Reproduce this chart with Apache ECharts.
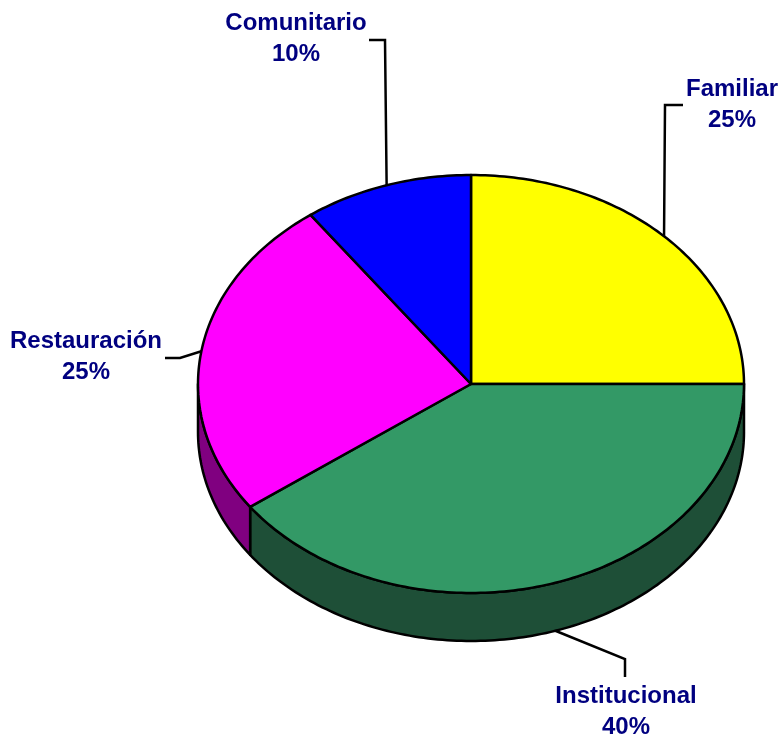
<!DOCTYPE html>
<html>
<head>
<meta charset="utf-8">
<script src="https://cdn.jsdelivr.net/npm/echarts@6/dist/echarts.min.js"></script>
<style>
  html, body { margin: 0; padding: 0; background: #fff; }
  #chart { width: 780px; height: 738px; }
</style>
</head>
<body>
<div id="chart"></div>
<script>
// data
const categories = ['Familiar', 'Institucional', 'Restauración', 'Comunitario'];
const values = [25, 40, 25, 10];

// styles
const topColors = ['#ffff00', '#339966', '#ff00ff', '#0000ff'];
const sideColors = ['#808000', '#1e4f37', '#800080', '#000080'];

// ellipse geometry (pixels)
const cx = 471, cy = 384, rx = 273, ry = 209, depth = 48;

// label placement: text centre, elbow and end of leader line
const labelLayout = [
  { text: [732, 105], elbow: [665, 105], end: [683, 105] },
  { text: [626, 712], elbow: [625, 659], end: [625, 677] },
  { text: [86, 357], elbow: [180, 358], end: [165, 358] },
  { text: [296, 39], elbow: [385, 40], end: [369, 40] }
];

const total = values.reduce((a, b) => a + b, 0);
const rad = d => d * Math.PI / 180;
const pt = (t, dy) => [cx + rx * Math.cos(rad(t)), cy - ry * Math.sin(rad(t)) + (dy || 0)];

function sliceAngles(i) {
  let cum = 0;
  for (let k = 0; k < i; k++) cum += values[k];
  const t0 = 90 - 360 * cum / total;
  const t1 = 90 - 360 * (cum + values[i]) / total;
  return [t0, t1];
}

function arc(a, b, dy) {
  // points from angle a to angle b
  const pts = [];
  const n = Math.max(2, Math.ceil(Math.abs(a - b) / 1));
  for (let k = 0; k <= n; k++) pts.push(pt(a + (b - a) * k / n, dy));
  return pts;
}

function renderSide(params, api) {
  const i = params.dataIndex;
  const [t0, t1] = sliceAngles(i);
  const a = Math.min(t0, 0), b = Math.max(t1, -180);
  if (a <= b) return null;
  const pts = arc(a, b, 0).concat(arc(b, a, depth));
  return {
    type: 'polygon',
    shape: { points: pts },
    style: { fill: sideColors[i], stroke: '#000', lineWidth: 2.5, lineJoin: 'round' }
  };
}

function renderTop(params, api) {
  const i = params.dataIndex;
  const [t0, t1] = sliceAngles(i);
  const pts = [[cx, cy]].concat(arc(t0, t1, 0));
  const mid = (t0 + t1) / 2;
  const edge = pt(mid, Math.sin(rad(mid)) < 0 ? depth : 0);
  const lay = labelLayout[i];
  const pct = Math.round(api.value(0) / total * 100) + '%';
  return {
    type: 'group',
    children: [
      {
        type: 'polygon',
        shape: { points: pts },
        style: { fill: topColors[i], stroke: '#000', lineWidth: 2.5, lineJoin: 'round' }
      },
      {
        type: 'polyline',
        shape: { points: [edge, lay.elbow, lay.end] },
        style: { stroke: '#000', lineWidth: 2.5, fill: null }
      },
      {
        type: 'text',
        x: lay.text[0],
        y: lay.text[1],
        style: {
          text: categories[i] + '\n' + pct,
          fill: '#000080',
          font: 'bold 24px Arial, "Liberation Sans", sans-serif',
          lineHeight: 31,
          align: 'center',
          verticalAlign: 'middle'
        }
      }
    ]
  };
}

const chart = echarts.init(document.getElementById('chart'));
chart.setOption({
  animation: false,
  backgroundColor: '#fff',
  series: [
    {
      type: 'custom',
      coordinateSystem: 'none',
      z: 1,
      data: values.map(v => [v]),
      renderItem: renderSide
    },
    {
      type: 'custom',
      coordinateSystem: 'none',
      z: 2,
      data: values.map(v => [v]),
      renderItem: renderTop
    }
  ]
});
</script>
</body>
</html>
